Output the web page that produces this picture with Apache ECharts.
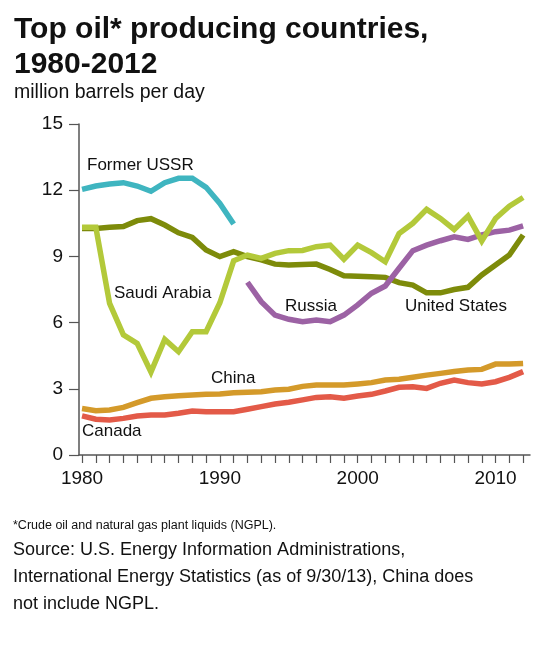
<!DOCTYPE html>
<html>
<head>
<meta charset="utf-8">
<script src="https://cdn.jsdelivr.net/npm/echarts@6/dist/echarts.min.js"></script>
<style>
html,body{margin:0;padding:0;background:#fff;}
#chart{width:555px;height:648px;}
</style>
</head>
<body>
<div id="chart"></div>
<script>
const years = [1980,1981,1982,1983,1984,1985,1986,1987,1988,1989,1990,1991,1992,1993,1994,1995,1996,1997,1998,1999,2000,2001,2002,2003,2004,2005,2006,2007,2008,2009,2010,2011,2012];
const yTicks = [0,3,6,9,12,15];
const xLabelYears = [1980,1990,2000,2010];

const formerUSSR = [12.04,12.19,12.28,12.34,12.19,11.95,12.34,12.54,12.54,12.13,11.40,10.47];
const saudiArabia = [10.32,10.32,6.87,5.44,5.06,3.76,5.24,4.68,5.59,5.59,6.90,8.80,9.06,8.91,9.14,9.26,9.27,9.44,9.51,8.87,9.51,9.17,8.76,10.04,10.50,11.13,10.72,10.22,10.83,9.70,10.72,11.28,11.67];
const unitedStates = [10.27,10.27,10.32,10.35,10.62,10.71,10.42,10.07,9.86,9.29,8.99,9.21,8.99,8.84,8.65,8.61,8.63,8.65,8.41,8.12,8.10,8.08,8.05,7.81,7.70,7.35,7.35,7.50,7.60,8.16,8.61,9.06,9.97];
const russia = [null,null,null,null,null,null,null,null,null,null,null,null,7.83,6.95,6.34,6.15,6.04,6.12,6.04,6.34,6.80,7.33,7.66,8.46,9.26,9.51,9.71,9.89,9.77,9.97,10.12,10.19,10.38];
const china = [2.11,2.01,2.04,2.16,2.37,2.57,2.64,2.69,2.72,2.75,2.76,2.82,2.84,2.87,2.95,2.98,3.11,3.17,3.17,3.17,3.22,3.28,3.40,3.43,3.52,3.62,3.70,3.78,3.85,3.88,4.12,4.12,4.15];
const canada = [1.77,1.62,1.59,1.66,1.77,1.81,1.81,1.89,1.99,1.96,1.96,1.96,2.07,2.19,2.31,2.39,2.50,2.61,2.64,2.57,2.67,2.75,2.90,3.07,3.09,3.02,3.25,3.40,3.28,3.22,3.32,3.52,3.78];

const seriesNames = ['Former USSR','Saudi Arabia','United States','Russia','China','Canada'];
const seriesValues = [formerUSSR, saudiArabia, unitedStates, russia, china, canada];
const seriesColors = ['#3fb5c0','#b3c93a','#7d8b0a','#9c62a4','#d49a2a','#e35a48'];

function pairs(vals){
  return vals.map((v,i)=>[years[i], v]);
}

const chart = echarts.init(document.getElementById('chart'), null, {renderer:'canvas'});
const FONT = '"Liberation Sans", Arial, Helvetica, sans-serif';

const series = seriesNames.map((name, k) => ({
  name: name,
  type: 'line',
  data: pairs(seriesValues[k]),
  showSymbol: false,
  symbol: 'none',
  connectNulls: false,
  lineStyle: {color: seriesColors[k], width: 5.5, join: 'miter'},
  itemStyle: {color: seriesColors[k]},
  z: k === 1 ? 3 : 2,
  silent: true,
  animation: false
}));

const labelStyle = {fontFamily: FONT, fontSize: 17, fill: '#111'};

chart.setOption({
  backgroundColor: '#ffffff',
  animation: false,
  grid: {left: 79, right: 25, top: 124, bottom: 193, containLabel: false},
  xAxis: {
    type: 'value',
    min: 1979.78,
    max: 2012.5,
    axisLine: {show: true, lineStyle: {color: '#555', width: 1.5}},
    axisTick: {show: true, customValues: years, length: 8, inside: false, lineStyle: {color: '#555', width: 1.2}},
    axisLabel: {customValues: xLabelYears, fontFamily: FONT, fontSize: 19, color: '#111', margin: 14,
      formatter: v => String(v)},
    splitLine: {show: false}
  },
  yAxis: {
    type: 'value',
    min: 0,
    max: 15,
    interval: 3,
    axisLine: {show: true, lineStyle: {color: '#555', width: 1.5}},
    axisTick: {show: true, length: 10, lineStyle: {color: '#555', width: 1.2}},
    axisLabel: {fontFamily: FONT, fontSize: 19, color: '#111', margin: 16,
      customValues: yTicks, formatter: v => String(v)},
    splitLine: {show: false}
  },
  series: series,
  graphic: [
    {type:'text', left: 14, top: 12, style:{text:'Top oil* producing countries,\n1980-2012', fontFamily: FONT, fontSize: 30, fontWeight:'bold', lineHeight: 35, fill:'#111'}},
    {type:'text', left: 14, top: 83, style:{text:'million barrels per day', fontFamily: FONT, fontSize: 19.5, fill:'#111'}},
    {type:'text', left: 87, top: 157, style: Object.assign({text:'Former USSR'}, labelStyle)},
    {type:'text', left: 114, top: 285, style: Object.assign({text:'Saudi Arabia'}, labelStyle)},
    {type:'text', left: 285, top: 298, style: Object.assign({text:'Russia'}, labelStyle)},
    {type:'text', left: 405, top: 298, style: Object.assign({text:'United States'}, labelStyle)},
    {type:'text', left: 211, top: 370, style: Object.assign({text:'China'}, labelStyle)},
    {type:'text', left: 82, top: 423, style: Object.assign({text:'Canada'}, labelStyle)},
    {type:'text', left: 13, top: 519, style:{text:'*Crude oil and natural gas plant liquids (NGPL).', fontFamily: FONT, fontSize: 12.5, fill:'#111'}},
    {type:'text', left: 13, top: 537, style:{text:'Source: U.S. Energy Information Administrations,\nInternational Energy Statistics (as of 9/30/13), China does\nnot include NGPL.', fontFamily: FONT, fontSize: 18, lineHeight: 27, fill:'#111'}}
  ]
});
</script>
</body>
</html>
